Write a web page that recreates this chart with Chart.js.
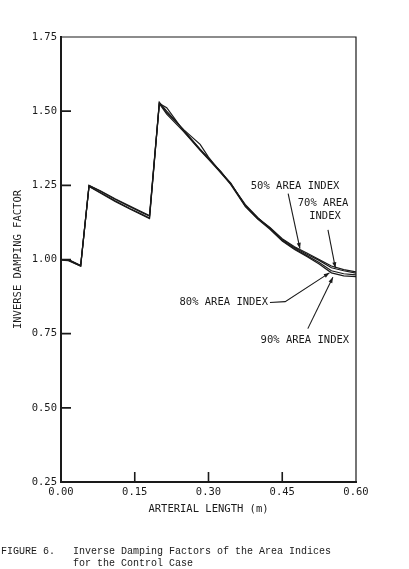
<!DOCTYPE html>
<html>
<head>
<meta charset="utf-8">
<script src="https://cdn.jsdelivr.net/npm/chart.js@4.4.1/dist/chart.umd.min.js"></script>
<style>
  html, body { margin: 0; padding: 0; background: #fff; }
  #wrap { width: 409px; height: 569px; position: relative; }
</style>
</head>
<body>
<div id="wrap"><canvas id="chart"></canvas></div>
<script>
// arterial length (m) where the curves were sampled
const lengths = [0, 0.015, 0.04, 0.057, 0.08, 0.11, 0.14, 0.165, 0.18, 0.20, 0.215, 0.25, 0.283, 0.30, 0.325, 0.345, 0.375, 0.40, 0.425, 0.45, 0.475, 0.50, 0.525, 0.55, 0.575, 0.60];

// inverse damping factor, one list per area index
const index50 = [1.00, 1.00, 0.98, 1.25, 1.232, 1.205, 1.18, 1.16, 1.148, 1.53, 1.50, 1.435, 1.372, 1.342, 1.295, 1.257, 1.182, 1.14, 1.108, 1.07, 1.043, 1.022, 1.00, 0.978, 0.966, 0.958];
const index70 = [1.00, 1.00, 0.98, 1.25, 1.230, 1.203, 1.178, 1.158, 1.146, 1.528, 1.495, 1.437, 1.388, 1.345, 1.293, 1.258, 1.180, 1.138, 1.106, 1.067, 1.040, 1.018, 0.997, 0.972, 0.962, 0.954];
const index80 = [1.00, 0.998, 0.978, 1.247, 1.226, 1.198, 1.172, 1.152, 1.14, 1.526, 1.512, 1.432, 1.37, 1.34, 1.297, 1.255, 1.185, 1.142, 1.104, 1.064, 1.036, 1.013, 0.99, 0.962, 0.952, 0.948];
const index90 = [0.998, 0.996, 0.978, 1.246, 1.224, 1.196, 1.170, 1.150, 1.138, 1.525, 1.49, 1.43, 1.368, 1.338, 1.292, 1.253, 1.178, 1.136, 1.102, 1.062, 1.034, 1.01, 0.985, 0.955, 0.945, 0.942];

const xTicks = [0, 0.15, 0.30, 0.45, 0.60];
const yTicks = [0.25, 0.50, 0.75, 1.00, 1.25, 1.50, 1.75];

const seriesNames = ['50% AREA INDEX', '70% AREA INDEX', '80% AREA INDEX', '90% AREA INDEX'];
const seriesValues = [index50, index70, index80, index90];

const MONO = '"DejaVu Sans Mono", monospace';
const INK = '#1a1a1a';

function toPoints(values) {
    return lengths.map((x, i) => ({ x: x, y: values[i] }));
}

// inward tick marks, top/right frame, labels with arrows, caption
const decorations = {
    id: 'decorations',
    afterDraw(chart) {
        const ctx = chart.ctx;
        const xs = chart.scales.x, ys = chart.scales.y;
        const area = chart.chartArea;
        const px = v => xs.getPixelForValue(v);
        const py = v => ys.getPixelForValue(v);

        ctx.save();
        ctx.strokeStyle = INK;
        ctx.lineWidth = 1.2;
        ctx.beginPath();
        ctx.moveTo(area.left, area.top);
        ctx.lineTo(area.right, area.top);
        ctx.lineTo(area.right, area.bottom);
        ctx.stroke();

        ctx.lineWidth = 1.6;
        ctx.beginPath();
        yTicks.slice(1, -1).forEach(v => {
            ctx.moveTo(area.left, py(v));
            ctx.lineTo(area.left + 10, py(v));
        });
        xTicks.slice(1, -1).forEach(v => {
            ctx.moveTo(px(v), area.bottom);
            ctx.lineTo(px(v), area.bottom - 10);
        });
        ctx.stroke();

        function arrow(points) {
            ctx.lineWidth = 1.1;
            ctx.beginPath();
            points.forEach((p, i) => {
                if (i === 0) ctx.moveTo(px(p[0]), py(p[1]));
                else ctx.lineTo(px(p[0]), py(p[1]));
            });
            ctx.stroke();
            const a = points[points.length - 2], b = points[points.length - 1];
            const x1 = px(a[0]), y1 = py(a[1]), x2 = px(b[0]), y2 = py(b[1]);
            const ang = Math.atan2(y2 - y1, x2 - x1);
            ctx.beginPath();
            ctx.moveTo(x2, y2);
            ctx.lineTo(x2 - 6 * Math.cos(ang - 0.35), y2 - 6 * Math.sin(ang - 0.35));
            ctx.lineTo(x2 - 6 * Math.cos(ang + 0.35), y2 - 6 * Math.sin(ang + 0.35));
            ctx.closePath();
            ctx.fill();
        }

        ctx.fillStyle = INK;
        ctx.font = '10.5px ' + MONO;
        ctx.textBaseline = 'middle';

        ctx.textAlign = 'center';
        ctx.fillText(seriesNames[0], px(0.476), py(1.247));
        arrow([[0.462, 1.222], [0.486, 1.037]]);

        ctx.fillText('70% AREA', px(0.533), py(1.189));
        ctx.fillText('INDEX', px(0.537), py(1.145));
        arrow([[0.543, 1.10], [0.558, 0.972]]);

        ctx.textAlign = 'right';
        ctx.fillText(seriesNames[2], px(0.421), py(0.855));
        arrow([[0.425, 0.855], [0.456, 0.858], [0.546, 0.955]]);

        ctx.textAlign = 'center';
        ctx.fillText(seriesNames[3], px(0.496), py(0.728));
        arrow([[0.502, 0.767], [0.553, 0.940]]);

        ctx.font = '10px "Liberation Mono", monospace';
        ctx.textAlign = 'left';
        ctx.fillText('FIGURE 6.   Inverse Damping Factors of the Area Indices', 1, 551);
        ctx.fillText('            for the Control Case', 1, 563);
        ctx.restore();
    }
};

new Chart(document.getElementById('chart'), {
    type: 'line',
    data: {
        datasets: seriesValues.map((vals, i) => ({
            label: seriesNames[i],
            data: toPoints(vals),
            borderColor: INK,
            borderWidth: 1.2,
            pointRadius: 0,
            tension: 0,
            fill: false
        }))
    },
    options: {
        responsive: true,
        maintainAspectRatio: false,
        animation: false,
        layout: { padding: { left: 0, right: 53, top: 37, bottom: 0 } },
        plugins: { legend: { display: false }, tooltip: { enabled: false } },
        scales: {
            x: {
                type: 'linear',
                min: 0,
                max: 0.6,
                afterBuildTicks: s => { s.ticks = xTicks.map(v => ({ value: v })); },
                afterFit: s => { s.height = 87; },
                grid: { display: false, drawTicks: false },
                border: { display: true, color: INK, width: 2 },
                ticks: {
                    callback: v => v.toFixed(2),
                    font: { family: MONO, size: 10.5 },
                    color: INK,
                    padding: 4,
                    maxRotation: 0
                },
                title: {
                    display: true,
                    text: 'ARTERIAL LENGTH (m)',
                    font: { family: MONO, size: 10.5 },
                    color: INK,
                    padding: { top: 0, bottom: 53 }
                }
            },
            y: {
                min: 0.25,
                max: 1.75,
                afterBuildTicks: s => { s.ticks = yTicks.map(v => ({ value: v })); },
                afterFit: s => { s.width = 61; },
                grid: { display: false, drawTicks: false },
                border: { display: true, color: INK, width: 2 },
                ticks: {
                    callback: v => v.toFixed(2),
                    font: { family: MONO, size: 10.5 },
                    color: INK,
                    padding: 4
                },
                title: {
                    display: true,
                    text: 'INVERSE DAMPING FACTOR',
                    font: { family: MONO, size: 10.5 },
                    color: INK,
                    padding: { top: 12, bottom: 0 }
                }
            }
        }
    },
    plugins: [decorations]
});
</script>
</body>
</html>
